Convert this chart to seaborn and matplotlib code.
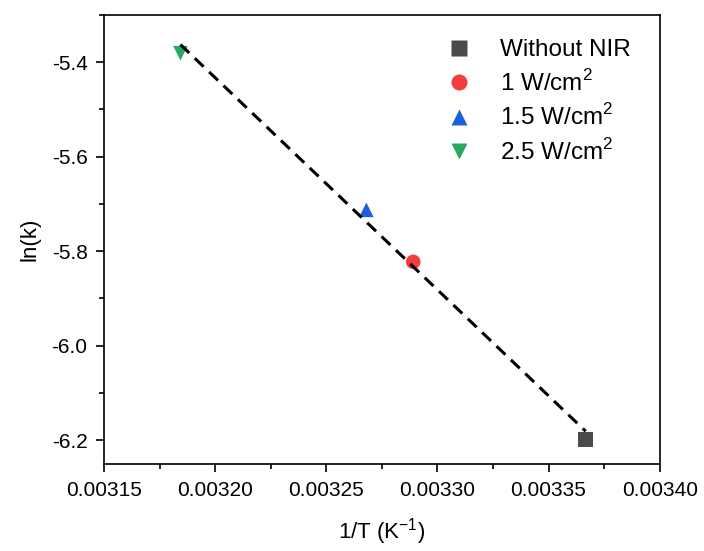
import numpy as np
import pandas as pd
import matplotlib
matplotlib.use("Agg")
import matplotlib.pyplot as plt
import seaborn as sns
from matplotlib.ticker import MultipleLocator

# Values
labels = ["Without NIR", "1 W/cm$^2$", "1.5 W/cm$^2$", "2.5 W/cm$^2$"]
inv_T = [0.0033667, 0.0032891, 0.0032680, 0.0031843]
ln_k = [-6.1985, -5.8224, -5.7125, -5.3810]
colors = ["#4b4b4b", "#f23d3d", "#1b5fe0", "#2aa860"]
markers = ["s", "o", "^", "v"]

sns.set_theme(style="ticks")
plt.rcParams["font.family"] = ["Liberation Sans", "DejaVu Sans"]
plt.rcParams["mathtext.fontset"] = "custom"
plt.rcParams["mathtext.rm"] = "Liberation Sans"
plt.rcParams["text.color"] = "black"
plt.rcParams["axes.labelcolor"] = "black"
plt.rcParams["xtick.color"] = "black"
plt.rcParams["ytick.color"] = "black"

df = pd.DataFrame({"x": inv_T, "y": ln_k, "label": labels})

fig = plt.figure(figsize=(7.04, 5.51), dpi=100)
ax = fig.add_axes([0.148, 0.158, 0.789, 0.815])

# linear (Arrhenius) fit, drawn across the data range
slope, intercept = np.polyfit(inv_T, ln_k, 1)
fx = np.array([min(inv_T), max(inv_T)])
fit_df = pd.DataFrame({"x": fx, "y": slope * fx + intercept})
sns.lineplot(data=fit_df, x="x", y="y", ax=ax, color="black",
             linestyle=(0, (4, 2.5)), linewidth=2.2, zorder=3)

sns.scatterplot(data=df, x="x", y="y", hue="label", style="label",
                palette=colors, markers=markers, hue_order=labels,
                style_order=labels, s=110, edgecolor="none", ax=ax, zorder=2)

ax.set_xlim(0.00315, 0.00340)
ax.set_ylim(-6.25, -5.30)
ax.xaxis.set_major_locator(MultipleLocator(0.00005))
ax.xaxis.set_minor_locator(MultipleLocator(0.000025))
ax.yaxis.set_major_locator(MultipleLocator(0.2))
ax.yaxis.set_minor_locator(MultipleLocator(0.1))
ax.xaxis.set_major_formatter(plt.FuncFormatter(lambda v, p: f"{v:.5f}"))
ax.yaxis.set_major_formatter(plt.FuncFormatter(lambda v, p: f"{v:.1f}"))
ax.tick_params(which="major", direction="out", length=6, width=1.2,
               labelsize=15, color="black", pad=6)
ax.tick_params(which="minor", direction="out", length=3.5, width=1.2, color="black")
for sp in ax.spines.values():
    sp.set_color("black")
    sp.set_linewidth(1.2)

ax.set_xlabel("1/T (K$^{-1}$)", fontsize=16, labelpad=12)
ax.set_ylabel("ln(k)", fontsize=16, labelpad=8)

ax.legend(loc="upper right", frameon=False, fontsize=17.5, markerscale=1.1,
          handletextpad=0.7, labelspacing=0.36, borderaxespad=0.5,
          bbox_to_anchor=(0.988, 0.995))

fig.savefig("out.png", dpi=100)
